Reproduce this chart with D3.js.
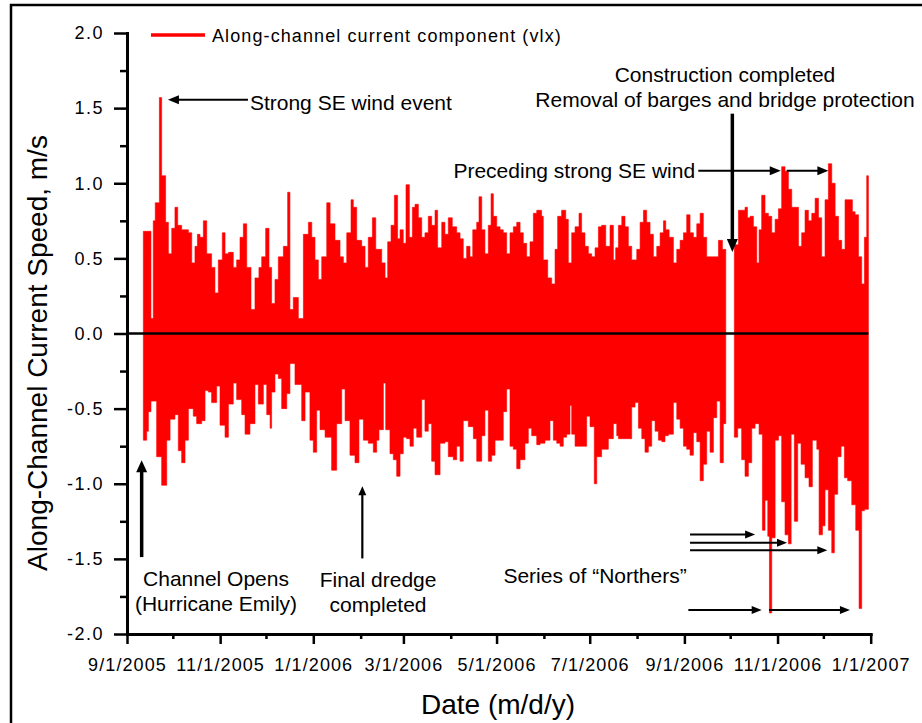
<!DOCTYPE html>
<html>
<head>
<meta charset="utf-8">
<script src="https://cdn.jsdelivr.net/npm/d3@7"></script>
<style>
  body { margin: 0; background: #fff; }
  svg { display: block; font-family: Arial, "Liberation Sans", sans-serif; }
</style>
</head>
<body>
<svg id="chart" width="922" height="723"></svg>
<script>
// record start, every sample position below is "days after 9/1/2005"
const startDate = Date.UTC(2005, 8, 1);
const endDate = Date.UTC(2007, 0, 1);

// upper envelope of the along-channel current (m/s), [day, value], null = no data
const upperEnvelope = [
  [10.7, 0.68], [15.7, 0.10], [17.2, 0.75], [18.5, 0.87], [21.2, 1.57], [22.7, 1.05], [25.3, 0.74], [27.1, 0.53],
  [29.3, 0.70], [31.4, 0.84], [33.2, 0.72], [35.8, 0.69], [40.2, 0.67], [42.4, 0.47], [44.5, 0.58], [46.1, 0.66],
  [47.8, 0.64], [50.0, 0.75], [52.2, 0.53], [55.4, 0.44], [57.6, 0.27], [59.8, 0.49], [62.4, 0.67], [64.2, 0.53],
  [66.4, 0.54], [69.6, 0.44], [71.8, 0.49], [74.0, 0.64], [76.2, 0.73], [78.4, 0.44], [81.2, 0.16], [83.8, 0.37],
  [86.4, 0.44], [88.2, 0.51], [90.8, 0.70], [93.0, 0.44], [94.7, 0.20], [96.9, 0.36], [99.1, 0.51], [102.4, 0.58],
  [105.2, 0.94], [106.7, 0.16], [108.9, 0.24], [112.2, 0.10], [115.5, 0.66], [118.8, 0.74], [121.0, 0.64], [123.1, 0.49],
  [125.3, 0.36], [127.5, 0.51], [130.8, 0.87], [133.0, 0.73], [136.2, 0.62], [139.5, 0.51], [141.7, 0.47], [143.9, 0.67],
  [146.7, 0.89], [148.2, 0.84], [150.4, 0.62], [153.7, 0.58], [155.9, 0.44], [158.0, 0.64], [160.7, 0.77], [162.9, 0.56],
  [166.8, 0.47], [169.0, 0.37], [170.7, 0.61], [172.9, 0.72], [175.1, 0.92], [177.2, 0.63], [178.8, 0.69], [180.9, 0.60],
  [182.7, 0.99], [184.9, 0.64], [186.9, 0.84], [188.6, 0.86], [190.8, 0.77], [193.0, 0.64], [195.1, 0.67], [197.3, 0.78],
  [199.5, 0.72], [201.7, 0.82], [203.4, 0.57], [206.1, 0.74], [208.2, 0.66], [210.4, 0.77], [213.0, 0.71], [215.9, 0.67],
  [218.1, 0.63], [220.2, 0.50], [222.4, 0.58], [224.6, 0.51], [226.4, 0.69], [229.0, 0.74], [230.5, 0.91], [232.3, 0.69],
  [234.4, 0.53], [236.6, 0.72], [238.4, 0.93], [239.9, 0.78], [242.1, 0.71], [244.3, 0.69], [246.4, 0.67], [248.6, 0.53],
  [250.8, 0.67], [253.0, 0.71], [255.2, 0.74], [257.4, 0.67], [259.5, 0.60], [261.7, 0.51], [263.9, 0.61], [266.1, 0.80],
  [268.3, 0.82], [271.5, 0.78], [272.6, 0.49], [275.5, 0.37], [278.1, 0.33], [280.3, 0.56], [282.0, 0.78], [284.6, 0.82],
  [287.3, 0.76], [289.0, 0.47], [291.2, 0.67], [293.4, 0.71], [296.0, 0.80], [297.7, 0.67], [299.9, 0.58], [302.1, 0.53],
  [304.3, 0.51], [306.5, 0.57], [308.7, 0.71], [310.8, 0.72], [313.5, 0.58], [316.3, 0.72], [318.5, 0.49], [320.0, 0.57],
  [321.8, 0.72], [324.0, 0.78], [326.1, 0.71], [328.3, 0.58], [330.5, 0.49], [333.8, 0.56], [336.0, 0.74], [338.2, 0.82],
  [340.3, 0.74], [342.5, 0.66], [344.7, 0.51], [346.9, 0.58], [349.1, 0.67], [351.3, 0.75], [352.8, 0.69], [355.0, 0.64],
  [357.8, 0.47], [360.0, 0.56], [362.2, 0.62], [364.4, 0.67], [366.5, 0.79], [368.7, 0.67], [370.9, 0.64], [373.1, 0.73],
  [375.3, 0.80], [377.4, 0.64], [379.6, 0.51], [387.3, 0.62], [389.9, 0.56], [392.1, 0.56], [392.2, null],
  [397.7, 0.59], [400.4, 0.82], [404.7, 0.84], [406.3, 0.77], [408.0, 0.78], [410.2, 0.71], [412.4, 0.47], [413.9, 0.69],
  [415.6, 0.92], [417.8, 0.80], [420.0, 0.78], [422.2, 0.67], [424.4, 0.76], [426.6, 0.83], [428.7, 1.11], [430.9, 1.08],
  [433.1, 0.96], [435.3, 0.84], [439.7, 0.58], [441.8, 0.67], [444.0, 0.82], [446.2, 0.75], [448.4, 0.80], [450.6, 0.90],
  [452.8, 0.77], [454.9, 0.51], [457.1, 0.89], [459.3, 1.13], [461.5, 1.00], [463.7, 0.78], [465.9, 0.62], [468.0, 0.56],
  [470.2, 0.89], [475.0, 0.81], [476.8, 0.79], [479.0, 0.51], [481.1, 0.33], [482.9, 0.64], [484.4, 1.05], [485.5, 1.05]
];

// lower envelope (m/s), same layout
const lowerEnvelope = [
  [10.7, -0.71], [12.9, -0.65], [14.0, -0.52], [15.7, -0.45], [19.4, -0.82], [22.7, -1.01], [26.0, -0.71], [28.2, -0.57],
  [31.4, -0.54], [33.6, -0.78], [35.8, -0.86], [38.0, -0.71], [40.2, -0.50], [43.4, -0.55], [45.6, -0.60], [48.9, -0.58],
  [51.1, -0.38], [53.3, -0.39], [55.4, -0.46], [58.7, -0.35], [60.9, -0.61], [64.2, -0.69], [66.4, -0.47], [69.6, -0.33],
  [71.8, -0.44], [75.1, -0.54], [77.3, -0.67], [80.5, -0.60], [83.8, -0.34], [86.0, -0.47], [89.3, -0.34], [91.5, -0.54],
  [93.7, -0.63], [94.7, -0.39], [96.9, -0.27], [99.1, -0.30], [101.3, -0.50], [104.6, -0.40], [106.7, -0.20], [110.0, -0.34],
  [114.4, -0.58], [116.6, -0.39], [119.8, -0.71], [122.0, -0.79], [124.2, -0.51], [126.4, -0.64], [129.7, -0.69], [134.0, -0.91],
  [137.3, -0.60], [140.6, -0.37], [142.8, -0.58], [146.0, -0.81], [149.3, -0.86], [151.9, -0.57], [154.8, -0.71], [158.0, -0.73],
  [161.3, -0.79], [163.5, -0.71], [165.0, -0.64], [167.9, -0.33], [169.4, -0.64], [172.2, -0.80], [174.4, -0.84], [176.6, -0.95],
  [178.8, -0.80], [180.9, -0.69], [183.1, -0.70], [185.3, -0.75], [187.5, -0.63], [189.7, -0.69], [193.0, -0.44], [195.1, -0.65],
  [197.3, -0.60], [199.5, -0.85], [201.7, -0.94], [205.0, -0.73], [208.2, -0.72], [210.4, -0.82], [213.7, -0.84], [215.9, -0.75],
  [218.1, -0.85], [220.2, -0.58], [223.5, -0.62], [226.8, -0.70], [229.0, -0.85], [232.3, -0.68], [234.4, -0.51], [236.6, -0.85],
  [238.8, -0.81], [241.0, -0.71], [246.4, -0.52], [248.6, -0.37], [250.8, -0.75], [253.0, -0.77], [255.2, -0.90], [257.4, -0.84],
  [260.6, -0.73], [262.8, -0.63], [265.0, -0.68], [268.3, -0.74], [270.5, -0.73], [273.7, -0.71], [277.0, -0.58], [279.2, -0.71],
  [281.4, -0.73], [283.6, -0.75], [285.7, -0.69], [287.9, -0.67], [290.1, -0.48], [291.2, -0.67], [293.4, -0.75], [301.0, -0.55],
  [303.2, -0.62], [306.0, -1.00], [307.6, -0.82], [310.8, -0.77], [315.2, -0.70], [318.5, -0.60], [320.7, -0.68], [321.8, -0.70],
  [330.5, -0.49], [332.7, -0.46], [334.9, -0.63], [337.1, -0.70], [339.2, -0.79], [341.4, -0.75], [343.6, -0.58], [345.8, -0.65],
  [348.0, -0.71], [350.2, -0.72], [352.3, -0.68], [354.5, -0.67], [357.8, -0.46], [360.0, -0.57], [362.2, -0.63], [364.4, -0.75],
  [366.5, -0.77], [368.7, -0.81], [370.9, -0.66], [373.1, -0.72], [375.3, -0.98], [377.4, -0.87], [379.6, -0.65], [381.8, -0.79],
  [384.0, -0.56], [386.2, -0.45], [388.4, -0.86], [390.5, -0.60], [392.1, -0.60], [392.2, null],
  [397.7, -0.69], [399.9, -0.63], [402.5, -0.84], [404.7, -0.95], [406.9, -0.86], [409.1, -0.63], [411.3, -0.60], [413.9, -0.67],
  [416.1, -1.31], [417.8, -1.11], [419.6, -1.35], [420.7, -1.86], [422.2, -1.36], [424.4, -0.71], [426.6, -0.68], [428.7, -1.12],
  [430.9, -1.34], [433.1, -1.40], [434.9, -0.67], [437.0, -1.25], [439.2, -0.73], [441.4, -0.87], [444.0, -0.96], [446.6, -1.02],
  [448.8, -0.71], [451.7, -0.77], [453.2, -1.34], [455.4, -1.28], [457.1, -1.04], [459.3, -1.31], [461.5, -1.46], [463.2, -1.07],
  [465.4, -0.82], [467.6, -0.75], [469.8, -0.96], [471.9, -0.98], [474.6, -1.14], [477.2, -1.31], [479.4, -1.83], [481.1, -1.18],
  [482.9, -1.17], [485.5, -1.17]
];

const yTicks = [-2, -1.5, -1, -0.5, 0, 0.5, 1, 1.5, 2];
const yMinorTicks = [-1.75, -1.25, -0.75, -0.25, 0.25, 0.75, 1.25, 1.75];

const seriesLabel = "Along-channel current component (vlx)";
const xAxisLabel = "Date (m/d/y)";
const yAxisLabel = "Along-Channel Current Speed, m/s";

const width = 922;
const height = 723;
const margin = { left: 127, top: 33, right: 51.3, bottom: 89 };
const font = 'Arial, "Liberation Sans", sans-serif';

const svg = d3.select("#chart");
const dayDate = (d) => new Date(startDate + d * 864e5);

const x = d3
  .scaleUtc()
  .domain([new Date(startDate), new Date(endDate)])
  .range([margin.left, width - margin.right]);

const y = d3
  .scaleLinear()
  .domain([-2, 2])
  .range([height - margin.bottom, margin.top]);

// outer frame (runs off the right and bottom of the picture)
svg
  .append("rect")
  .attr("x", 11)
  .attr("y", 5)
  .attr("width", 1000)
  .attr("height", 1000)
  .attr("fill", "none")
  .attr("stroke", "black")
  .attr("stroke-width", 2.5);

// the series
const band = (data) =>
  d3
    .area()
    .defined((d) => d[1] !== null)
    .curve(d3.curveStepAfter)
    .x((d) => x(dayDate(d[0])))
    .y0(y(0))
    .y1((d) => y(d[1]))(data);

const gData = svg.append("g");
[upperEnvelope, lowerEnvelope].forEach((env) => {
  gData
    .append("path")
    .attr("d", band(env))
    .attr("fill", "#ff0000")
    .attr("stroke", "#ff0000")
    .attr("stroke-width", 0.6);
});

// zero line
svg
  .append("line")
  .attr("x1", x(new Date(startDate)))
  .attr("x2", x(dayDate(485.5)))
  .attr("y1", y(0))
  .attr("y2", y(0))
  .attr("stroke", "black")
  .attr("stroke-width", 2.5);

// axes
const styleAxis = (g) => {
  g.attr("font-family", font);
  g.select(".domain").attr("stroke-width", 3).attr("stroke-linecap", "square");
  g.selectAll(".tick line").attr("stroke-width", 2.5);
  g.selectAll(".tick text").attr("fill", "black").attr("font-size", "18px");
};

svg
  .append("g")
  .attr("transform", `translate(${margin.left},0)`)
  .call(d3.axisLeft(y).tickValues(yMinorTicks).tickSize(7).tickSizeOuter(0).tickFormat(""))
  .call((g) => g.select(".domain").remove())
  .call((g) => g.selectAll(".tick line").attr("stroke-width", 2.5));

const yAxisG = svg
  .append("g")
  .attr("transform", `translate(${margin.left},0)`)
  .call(
    d3
      .axisLeft(y)
      .tickValues(yTicks)
      .tickSize(13)
      .tickSizeOuter(0)
      .tickPadding(10)
      .tickFormat((d) => d.toFixed(1))
  )
  .call(styleAxis);
yAxisG.selectAll(".tick text").attr("letter-spacing", "1.5px");

const xBase = height - margin.bottom;
svg
  .append("g")
  .attr("transform", `translate(0,${xBase})`)
  .call(
    d3
      .axisBottom(x)
      .ticks(d3.utcMonth.filter((d) => d.getUTCMonth() % 2 === 1))
      .tickSize(5)
      .tickSizeOuter(0)
      .tickFormat("")
  )
  .call((g) => g.select(".domain").remove())
  .call((g) => g.selectAll(".tick line").attr("stroke-width", 2.5));

const xAxisG = svg
  .append("g")
  .attr("transform", `translate(0,${xBase})`)
  .call(
    d3
      .axisBottom(x)
      .ticks(d3.utcMonth.every(2))
      .tickSize(10)
      .tickSizeOuter(0)
      .tickPadding(14)
      .tickFormat(d3.utcFormat("%-m/%-d/%Y"))
  )
  .call(styleAxis);
xAxisG.selectAll(".tick text").attr("letter-spacing", "1.1px");

// axis titles
svg
  .append("text")
  .attr("transform", `translate(47, 353) rotate(-90)`)
  .attr("text-anchor", "middle")
  .attr("font-size", "28px")
  .attr("font-family", font)
  .text(yAxisLabel);

svg
  .append("text")
  .attr("x", 498)
  .attr("y", 714)
  .attr("text-anchor", "middle")
  .attr("font-size", "28px")
  .attr("font-family", font)
  .text(xAxisLabel);

// legend
svg
  .append("line")
  .attr("x1", 151)
  .attr("x2", 205)
  .attr("y1", 35)
  .attr("y2", 35)
  .attr("stroke", "#ff0000")
  .attr("stroke-width", 3.5);
svg
  .append("text")
  .attr("x", 212)
  .attr("y", 42)
  .attr("font-size", "18px")
  .attr("letter-spacing", "1.1px")
  .attr("font-family", font)
  .text(seriesLabel);

// annotations
const notes = svg.append("g").attr("font-family", font).attr("font-size", "21px");

function arrow(d1, v1, d2, v2, w, len, half) {
  const x1 = x(dayDate(d1)), y1 = y(v1), x2 = x(dayDate(d2)), y2 = y(v2);
  const L = Math.hypot(x2 - x1, y2 - y1);
  const ux = (x2 - x1) / L, uy = (y2 - y1) / L;
  const bx = x2 - ux * len, by = y2 - uy * len;
  notes
    .append("line")
    .attr("x1", x1)
    .attr("y1", y1)
    .attr("x2", bx + ux)
    .attr("y2", by + uy)
    .attr("stroke", "black")
    .attr("stroke-width", w);
  notes
    .append("path")
    .attr("d", `M${x2},${y2}L${bx - uy * half},${by + ux * half}L${bx + uy * half},${by - ux * half}Z`)
    .attr("fill", "black");
}

function label(d, v, dy, anchor, lines) {
  const t = notes
    .append("text")
    .attr("x", x(dayDate(d)))
    .attr("y", y(v) + dy)
    .attr("text-anchor", anchor);
  lines.forEach((s, i) => {
    t.append("tspan").attr("x", x(dayDate(d))).attr("dy", i ? 25 : 0).text(s);
  });
}

// strong SE wind
arrow(79.2, 1.555, 26.8, 1.555, 2, 11, 4.5);
label(80.5, 1.555, 10, "start", ["Strong SE wind event"]);

// construction completed
label(391.6, 1.677, 0, "middle", ["Construction completed", "Removal of barges and bridge protection"]);
arrow(396.4, 1.463, 396.4, 0.542, 3.5, 13, 5.5);

// preceding SE wind
label(372.0, 1.083, 7, "end", ["Preceding strong SE wind"]);
arrow(374.1, 1.083, 428.1, 1.083, 2, 11, 4.5);
arrow(432.0, 1.083, 459.3, 1.083, 2, 11, 4.5);

// channel opens
arrow(9.6, -1.488, 9.6, -0.843, 3.5, 12, 5.5);
label(58.3, -1.683, 0, "middle", ["Channel Opens", "(Hurricane Emily)"]);

// final dredge
arrow(154.1, -1.497, 154.1, -1.017, 2.2, 9, 4);
label(164.4, -1.69, 0, "middle", ["Final dredge", "completed"]);

// northers
label(306.5, -1.663, 0, "middle", ["Series of \u201cNorthers\u201d"]);
arrow(368.7, -1.337, 411.3, -1.337, 2, 10, 4);
arrow(368.7, -1.392, 432.2, -1.392, 2, 10, 4);
arrow(368.7, -1.443, 458.6, -1.443, 2, 10, 4);
arrow(367.6, -1.84, 415.6, -1.84, 2, 10, 4);
arrow(420.4, -1.84, 473.4, -1.84, 2, 10, 4);
</script>
</body>
</html>
